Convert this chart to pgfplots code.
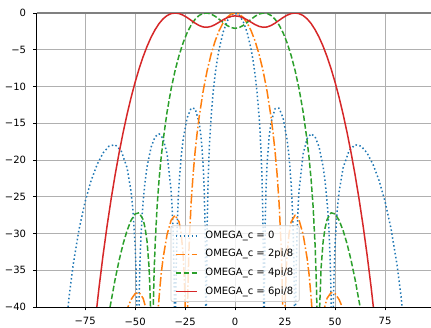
\documentclass[border=0pt]{standalone}
\usepackage{fontspec}
\setmainfont{DejaVu Sans}
\usepackage{pgfplots}
\pgfplotsset{compat=1.18}
\definecolor{tabblue}{HTML}{1F77B4}
\definecolor{taborange}{HTML}{FF7F0E}
\definecolor{tabgreen}{HTML}{2CA02C}
\definecolor{tabred}{HTML}{D62728}
\definecolor{gridgray}{HTML}{B0B0B0}
\definecolor{legendgray}{HTML}{CCCCCC}
\definecolor{topgray}{HTML}{808080}
\pgfplotsset{mylegimg/.style={legend image code/.code={\draw[##1, line width=1.5pt] (0pt,0pt) -- (21pt,0pt);}}}
\begin{document}
\begin{tikzpicture}
\begin{axis}[
  scale only axis,
  width=396.8pt, height=294pt,
  xmin=-99.2, xmax=99.2, ymin=-40, ymax=0,
  axis x line*=bottom, axis y line*=left,
  axis line style={-, line width=0.8pt, black},
  tick pos=left,
  xtick={-75,-50,-25,0,25,50,75},
  xticklabels={−75,−50,−25,0,25,50,75},
  ytick={-40,-35,-30,-25,-20,-15,-10,-5,0},
  yticklabels={−40,−35,−30,−25,−20,−15,−10,−5,0},
  tick align=outside, major tick length=3.5pt,
  tick style={black, line width=0.8pt},
  grid=major, grid style={color=gridgray, line width=0.8pt},
  ticklabel style={font=\fontsize{10}{12}\selectfont, inner sep=0pt},
  xticklabel style={anchor=north, yshift=-7pt},
  yticklabel style={anchor=east, xshift=-7pt},
  extra y ticks={0}, extra y tick labels={},
  extra y tick style={grid style={color=topgray, line width=1.6pt}, major tick length=0pt},
  legend cell align=left,
  legend style={at={(0.5,0)}, anchor=south, yshift=5pt,
    draw=legendgray, line width=0.8pt, rounded corners=2pt,
    fill=white, fill opacity=0.8, draw opacity=1, text opacity=1,
    font=\fontsize{10}{12}\selectfont,
    inner xsep=4pt, inner ysep=3pt, row sep=4.6pt, column sep=6pt,
    nodes={inner sep=2pt, text height=7.5pt, text depth=2.5pt}},
  clip=true,
]
\addplot[tabblue, line width=1.5pt, dash pattern=on 1.5pt off 2.475pt, line join=round, mylegimg] coordinates {
(-90,-80) (-86,-48.3) (-84,-41.31) (-83,-38.64) (-81,-34.30) (-78,-29.39) (-75,-25.68) (-72,-22.80) (-69,-20.62) (-66,-19.04) (-63,-18.11) (-60,-17.92) (-57,-18.72) (-54,-21.07) (-52,-24.32) (-51,-27.03) (-50,-31.43) (-49.5,-35.13) (-49.1,-40) (-48.59,-80) (-48,-38.64) (-47.5,-33.26) (-47,-29.95) (-46.5,-27.55) (-46,-25.69) (-45,-22.90) (-44,-20.89) (-42,-18.24) (-40,-16.84) (-38,-16.43) (-36,-17.08) (-34,-19.18) (-32,-24.14) (-31.5,-26.44) (-31,-29.77) (-30.5,-35.64) (-30.3,-40) (-30,-80) (-29.7,-39.86) (-29.5,-35.39) (-29,-29.28) (-28.5,-25.69) (-28,-23.15) (-27,-19.63) (-26,-17.23) (-24,-14.28) (-22,-12.95) (-20,-13.01) (-18,-14.85) (-17,-16.88) (-16,-20.51) (-15.5,-23.62) (-15,-29.13) (-14.7,-36.6) (-14.48,-80) (-14.3,-38.09) (-14,-29.33) (-13.5,-22.85) (-13,-19.03) (-12.5,-16.28) (-12,-14.127) (-11,-10.85) (-10,-8.408) (-9,-6.48) (-8,-4.925) (-6,-2.619) (-4,-1.124) (-2,-0.276)
(0,0)
(2,-0.276) (4,-1.124) (6,-2.619) (8,-4.925) (9,-6.48) (10,-8.408) (11,-10.85) (12,-14.127) (12.5,-16.28) (13,-19.03) (13.5,-22.85) (14,-29.33) (14.3,-38.09) (14.48,-80) (14.7,-36.6) (15,-29.13) (15.5,-23.62) (16,-20.51) (17,-16.88) (18,-14.85) (20,-13.01) (22,-12.95) (24,-14.28) (26,-17.23) (27,-19.63) (28,-23.15) (28.5,-25.69) (29,-29.28) (29.5,-35.39) (29.7,-39.86) (30,-80) (30.3,-40) (30.5,-35.64) (31,-29.77) (31.5,-26.44) (32,-24.14) (34,-19.18) (36,-17.08) (38,-16.43) (40,-16.84) (42,-18.24) (44,-20.89) (45,-22.90) (46,-25.69) (46.5,-27.55) (47,-29.95) (47.5,-33.26) (48,-38.64) (48.59,-80) (49.1,-40) (49.5,-35.13) (50,-31.43) (51,-27.03) (52,-24.32) (54,-21.07) (57,-18.72) (60,-17.92) (63,-18.11) (66,-19.04) (69,-20.62) (72,-22.80) (75,-25.68) (78,-29.39) (81,-34.30) (83,-38.64) (84,-41.31) (86,-48.3) (90,-80)
};
\addlegendentry{OMEGA\_c = 0}
\addplot[taborange, line width=1.5pt, dash pattern=on 9.6pt off 2.4pt on 1.5pt off 2.4pt, line join=round, mylegimg] coordinates {
(-56,-80) (-53.56,-40) (-52,-38.98) (-50,-38.18) (-48,-38.03) (-46,-38.81) (-44.78,-40) (-40.84,-80) (-38.37,-40) (-38,-38.66) (-37,-35.59) (-36,-33.35) (-34,-30.11) (-32,-28.20) (-30,-27.51) (-28,-28.435) (-27,-29.96) (-26,-32.77) (-25.5,-35.21) (-24.95,-40) (-24.32,-80) (-23.77,-40) (-23.5,-36.26) (-23,-31.66) (-22,-25.907) (-21,-21.95) (-20,-18.889) (-19,-16.36) (-18,-14.206) (-16,-10.669) (-14,-7.872) (-12,-5.625) (-10,-3.824) (-8,-2.409) (-6,-1.339) (-4,-0.590) (-2,-0.147)
(0,0)
(2,-0.147) (4,-0.590) (6,-1.339) (8,-2.409) (10,-3.824) (12,-5.625) (14,-7.872) (16,-10.669) (18,-14.206) (19,-16.36) (20,-18.889) (21,-21.95) (22,-25.907) (23,-31.66) (23.5,-36.26) (23.77,-40) (24.32,-80) (24.95,-40) (25.5,-35.21) (26,-32.77) (27,-29.96) (28,-28.435) (30,-27.51) (32,-28.20) (34,-30.11) (36,-33.35) (37,-35.59) (38,-38.66) (38.37,-40) (40.84,-80) (44.78,-40) (46,-38.81) (48,-38.03) (50,-38.18) (52,-38.98) (53.56,-40) (56,-80)
};
\addlegendentry{OMEGA\_c = 2pi/8}
\addplot[tabgreen, line width=1.5pt, dash pattern=on 5.55pt off 2.4pt, line join=round, mylegimg] coordinates {
(-66,-80) (-62.52,-40) (-62,-39.24) (-60,-36.26) (-58,-33.65) (-56,-31.42) (-54,-29.59) (-52,-28.20) (-50,-27.34) (-48,-27.18) (-46,-28.09) (-45,-29.24) (-44,-31.14) (-43,-34.66) (-42.28,-40) (-41.55,-80) (-40.91,-40) (-40.5,-35.35) (-40,-31.59) (-39,-26.32) (-38,-22.624) (-37,-19.73) (-36,-17.334) (-34,-13.432) (-32,-10.342) (-30,-7.824) (-28,-5.753) (-26,-4.060) (-24,-2.698) (-22,-1.638) (-20,-0.857) (-18,-0.337) (-16,-0.060) (-14,-0.004) (-12,-0.144) (-10,-0.443) (-8,-0.848) (-6,-1.293) (-4,-1.699) (-2,-1.985)
(0,-2.089)
(2,-1.985) (4,-1.699) (6,-1.293) (8,-0.848) (10,-0.443) (12,-0.144) (14,-0.004) (16,-0.060) (18,-0.337) (20,-0.857) (22,-1.638) (24,-2.698) (26,-4.060) (28,-5.753) (30,-7.824) (32,-10.342) (34,-13.432) (36,-17.334) (37,-19.73) (38,-22.624) (39,-26.32) (40,-31.59) (40.5,-35.35) (40.91,-40) (41.55,-80) (42.28,-40) (43,-34.66) (44,-31.14) (45,-29.24) (46,-28.09) (48,-27.18) (50,-27.34) (52,-28.20) (54,-29.59) (56,-31.42) (58,-33.65) (60,-36.26) (62,-39.24) (62.52,-40) (66,-80)
};
\addlegendentry{OMEGA\_c = 4pi/8}
\addplot[tabred, line width=1.5pt, line join=round, mylegimg] coordinates {
(-72,-50) (-70,-42.10) (-68,-37.271) (-66,-32.910) (-64,-28.948) (-62,-25.336) (-60,-22.038) (-58,-19.024) (-56,-16.271) (-54,-13.764) (-52,-11.487) (-50,-9.431) (-48,-7.590) (-46,-5.955) (-44,-4.525) (-42,-3.295) (-40,-2.272) (-38,-1.430) (-36,-0.792) (-34,-0.345) (-32,-0.084) (-30,0) (-28,-0.078) (-26,-0.294) (-24,-0.616) (-22,-0.997) (-20,-1.379) (-18,-1.698) (-16,-1.898) (-14,-1.941) (-12,-1.824) (-10,-1.577) (-8,-1.256) (-6,-0.925) (-4,-0.644) (-2,-0.456)
(0,-0.390)
(2,-0.456) (4,-0.644) (6,-0.925) (8,-1.256) (10,-1.577) (12,-1.824) (14,-1.941) (16,-1.898) (18,-1.698) (20,-1.379) (22,-0.997) (24,-0.616) (26,-0.294) (28,-0.078) (30,0) (32,-0.084) (34,-0.345) (36,-0.792) (38,-1.430) (40,-2.272) (42,-3.295) (44,-4.525) (46,-5.955) (48,-7.590) (50,-9.431) (52,-11.487) (54,-13.764) (56,-16.271) (58,-19.024) (60,-22.038) (62,-25.336) (64,-28.948) (66,-32.910) (68,-37.271) (70,-42.10) (72,-50)
};
\addlegendentry{OMEGA\_c = 6pi/8}
\end{axis}
\pgfresetboundingbox
\path (current axis.south west) ++(-36.7pt,-20pt) rectangle ++(431pt,327pt);
\end{tikzpicture}
\end{document}
